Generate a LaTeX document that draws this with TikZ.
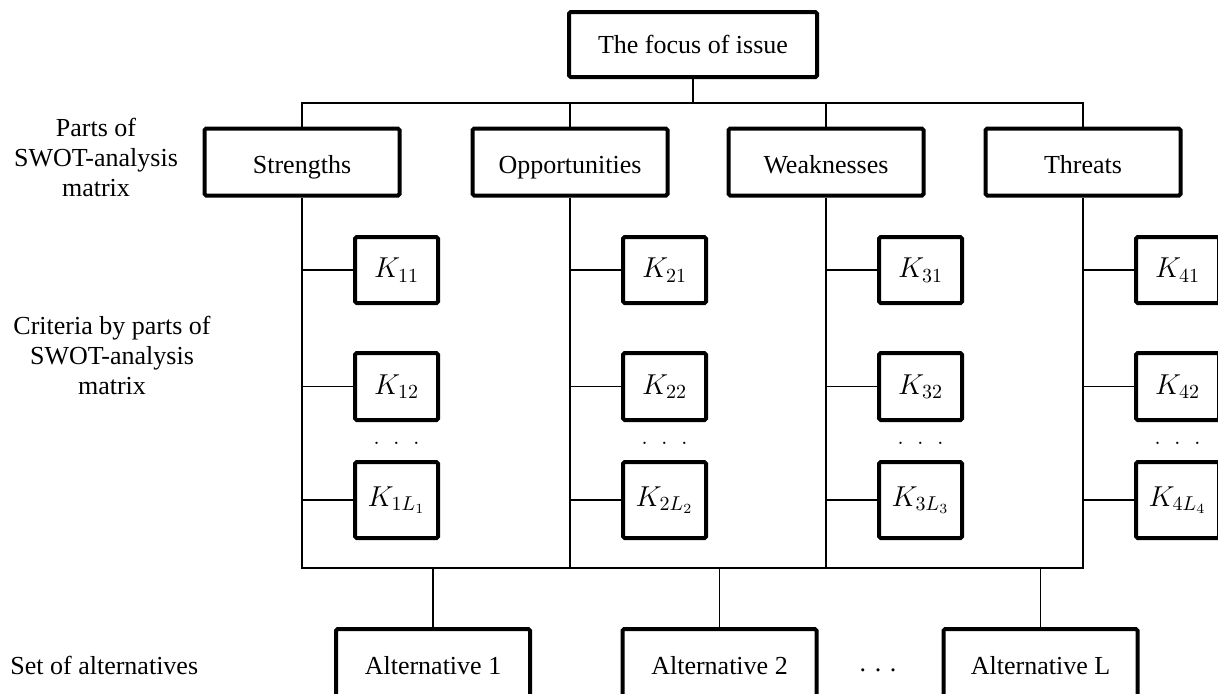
\documentclass[tikz,border=0pt]{standalone}
\usepackage{fontspec}
\setmainfont{Liberation Serif}
\begin{document}
\begin{tikzpicture}[x=0.5pt,y=-0.5pt,
  every node/.style={font=\fontsize{13}{15}\selectfont},
  box/.style={draw,line width=2pt,rounded corners=0.8pt,inner sep=0pt,minimum width=97.5pt,minimum height=33.5pt,text height=12pt,text depth=1pt},
  kbox/.style={draw,line width=2pt,rounded corners=0.8pt,inner sep=0pt,minimum width=41.5pt,minimum height=33pt,font=\fontsize{14}{16}\selectfont},
  link/.style={line width=0.9pt},
  lbl/.style={align=center,inner sep=0pt}]
\useasboundingbox (0,0) rectangle (1218,693);
% top
\node[box,minimum width=124pt,minimum height=32.5pt,text height=11pt,text depth=2pt] (F) at (693,44.5) {The focus of issue};
\coordinate (bus) at (693,103);
\coordinate (bot) at (693,568);
% parts
\node[box] (S) at (302,162) {Strengths};
\node[box] (O) at (570,162) {Opportunities};
\node[box] (W) at (826,162) {Weaknesses};
\node[box] (T) at (1083,162) {Threats};
% criteria
\foreach \c/\x/\n in {1/302/S,2/570/O,3/826/W,4/1083/T}{
  \node[kbox] (K\c1) at (\x+94.5,270) {$K_{\c1}$};
  \node[kbox,minimum height=33.5pt] (K\c2) at (\x+94.5,386.5) {$K_{\c2}$};
  \node[kbox,minimum height=38pt] (K\c L) at (\x+94.5,500) {$K_{\c L_{\c}}$};
  \node[inner sep=0pt] (D\c) at (\x+94.5,443) {$.\;\;.\;\;.$};
  \draw[link] (K\c1.west) -- (K\c1.west -| \n);
  \draw[link] (K\c2.west) -- (K\c2.west -| \n);
  \draw[link] (K\c L.west) -- (K\c L.west -| \n);
}
% alternatives
\node[box,minimum width=97pt,minimum height=34pt] (A1) at (433,663) {Alternative 1};
\node[box,minimum width=97pt,minimum height=34pt] (A2) at (719.5,663) {Alternative 2};
\node[box,minimum width=97pt,minimum height=34pt] (AL) at (1040.5,663) {Alternative L};
\node[inner sep=0pt] (AD) at (878,670) {.\,\,.\,\,.};
% left labels
\node[lbl] (L1) at (96,157) {Parts of\\SWOT-analysis\\matrix};
\node[lbl] (L2) at (112,355) {Criteria by parts of\\SWOT-analysis\\matrix};
\node[lbl,anchor=west] (L3) at (10,665) {Set of alternatives};
% connectors
\draw[link] (F.south) -- (F.south |- bus);
\draw[link] (S.north) -- (S.north |- bus) -- (T.north |- bus) -- (T.north);
\draw[link] (O.north) -- (O.north |- bus);
\draw[link] (W.north) -- (W.north |- bus);
\draw[link] (S.south) -- (S.south |- bot) -- (T.south |- bot) -- (T.south);
\draw[link] (O.south) -- (O.south |- bot);
\draw[link] (W.south) -- (W.south |- bot);
\draw[link] (A1.north) -- (A1.north |- bot);
\draw[link] (A2.north) -- (A2.north |- bot);
\draw[link] (AL.north) -- (AL.north |- bot);
\end{tikzpicture}
\end{document}
